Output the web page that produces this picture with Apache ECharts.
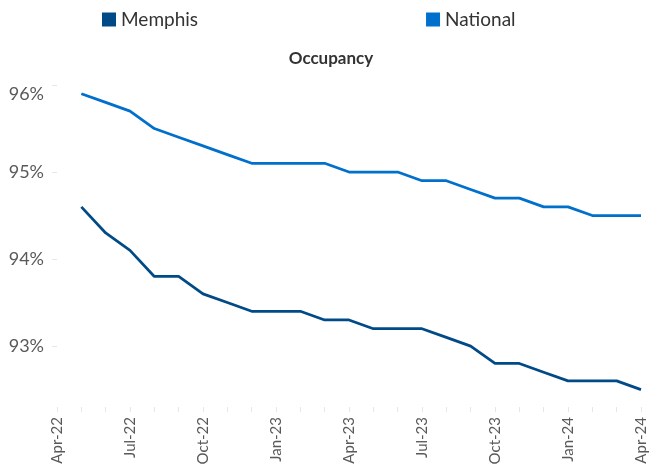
<!DOCTYPE html>
<html>
<head>
<meta charset="utf-8">
<script src="https://cdn.jsdelivr.net/npm/echarts@6/dist/echarts.min.js"></script>
<style>
  html, body {margin: 0; padding: 0; background: #fff;}
  #chart {width: 662px; height: 475px;}
</style>
</head>
<body>
<div id="chart"></div>
<script>
const months = [
  'Apr-22', 'May-22', 'Jun-22', 'Jul-22', 'Aug-22', 'Sep-22', 'Oct-22', 'Nov-22', 'Dec-22',
  'Jan-23', 'Feb-23', 'Mar-23', 'Apr-23', 'May-23', 'Jun-23', 'Jul-23', 'Aug-23', 'Sep-23',
  'Oct-23', 'Nov-23', 'Dec-23', 'Jan-24', 'Feb-24', 'Mar-24', 'Apr-24'
];
const memphis = [
  null, 94.6, 94.3, 94.1, 93.8, 93.8, 93.6, 93.5, 93.4,
  93.4, 93.4, 93.3, 93.3, 93.2, 93.2, 93.2, 93.1, 93.0,
  92.8, 92.8, 92.7, 92.6, 92.6, 92.6, 92.5
];
const national = [
  null, 95.9, 95.8, 95.7, 95.5, 95.4, 95.3, 95.2, 95.1,
  95.1, 95.1, 95.1, 95.0, 95.0, 95.0, 94.9, 94.9, 94.8,
  94.7, 94.7, 94.6, 94.6, 94.5, 94.5, 94.5
];
const yTicks = [93, 94, 95, 96];

const font = 'Lato, "Open Sans", sans-serif';
const faint = '#e6e6e6';

const myChart = echarts.init(document.getElementById('chart'));
myChart.setOption({
  animation: false,
  textStyle: {fontFamily: font},
  title: {
    text: 'Occupancy',
    left: 'center',
    top: 45,
    textStyle: {fontSize: 17, fontWeight: 'bold', color: '#333', fontFamily: font}
  },
  legend: {
    left: 97,
    top: 5,
    itemGap: 228,
    itemWidth: 14,
    itemHeight: 14,
    icon: 'rect',
    textStyle: {fontSize: 19, color: '#333', fontFamily: font},
    data: ['Memphis', 'National']
  },
  grid: {
    left: 57,
    right: 21,
    top: 85,
    bottom: 68,
    containLabel: false
  },
  xAxis: {
    type: 'category',
    boundaryGap: false,
    data: months,
    axisLine: {show: false},
    axisTick: {show: true, interval: 0, length: 5, lineStyle: {color: faint}},
    axisLabel: {
      interval: 2,
      rotate: 90,
      margin: 10,
      fontSize: 15,
      color: '#595959',
      fontFamily: font
    },
    splitLine: {show: false}
  },
  yAxis: {
    type: 'value',
    min: 92.3,
    max: 96,
    axisLine: {show: false},
    axisTick: {show: true, length: 5, customValues: yTicks, lineStyle: {color: faint}},
    axisLabel: {
      customValues: yTicks,
      margin: 13,
      fontSize: 18,
      color: '#595959',
      fontFamily: font,
      verticalAlignMaxLabel: 'top',
      formatter: v => Math.round(v) + '%'
    },
    splitLine: {show: false}
  },
  series: [
    {
      name: 'Memphis',
      type: 'line',
      data: memphis,
      symbol: 'none',
      color: '#004b87',
      lineStyle: {width: 2.75, color: '#004b87'}
    },
    {
      name: 'National',
      type: 'line',
      data: national,
      symbol: 'none',
      color: '#0070cc',
      lineStyle: {width: 2.75, color: '#0070cc'}
    }
  ]
});
</script>
</body>
</html>
